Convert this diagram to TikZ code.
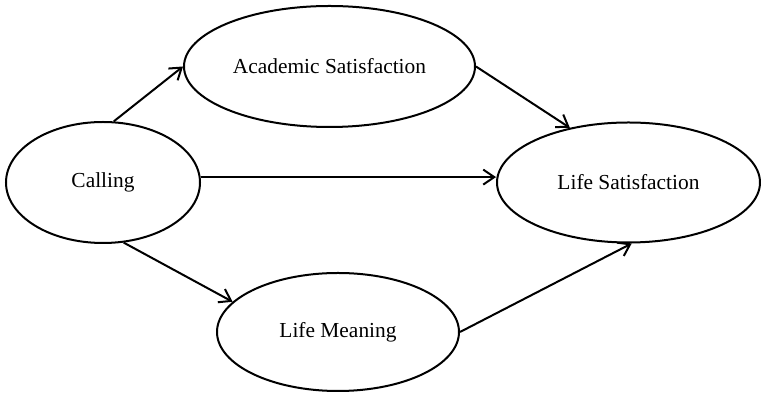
\documentclass[tikz,border=0pt]{standalone}
\usepackage{fontspec}
\setmainfont{Liberation Serif}
\usetikzlibrary{shapes.geometric,arrows.meta}
\begin{document}
\begin{tikzpicture}[x=0.5pt,y=-0.5pt,
  construct/.style={ellipse,draw,line width=1pt,inner sep=0pt,
    font=\fontsize{10.7}{12.8}\selectfont},
  path/.style={line width=1pt,-{Straight Barb[length=5.5pt,width=7.5pt]}}]
  \useasboundingbox (0,0) rectangle (761,394);
  % latent constructs
  \node[construct,minimum width=145.5pt,minimum height=60.5pt] (aca) at (329.5,66.5) {Academic Satisfaction};
  \node[construct,minimum width=97pt,minimum height=60.5pt] (call) at (103,182.5) {Calling};
  \node[construct,minimum width=131.5pt,minimum height=60pt] (ls) at (628.5,182.5) {Life Satisfaction};
  \node[construct,minimum width=121pt,minimum height=59pt] (lm) at (338,332) {Life Meaning};
  % structural paths
  \draw[path] (call.80) -- (aca.west);
  \draw[path] (aca.east) -- (ls.137);
  \draw[path] ([yshift=2.7pt]call.east) -- ([yshift=2.7pt]ls.west);
  \draw[path] (call.-71) -- (lm.164);
  \draw[path] (lm.east) -- (ls.-87);
\end{tikzpicture}
\end{document}
